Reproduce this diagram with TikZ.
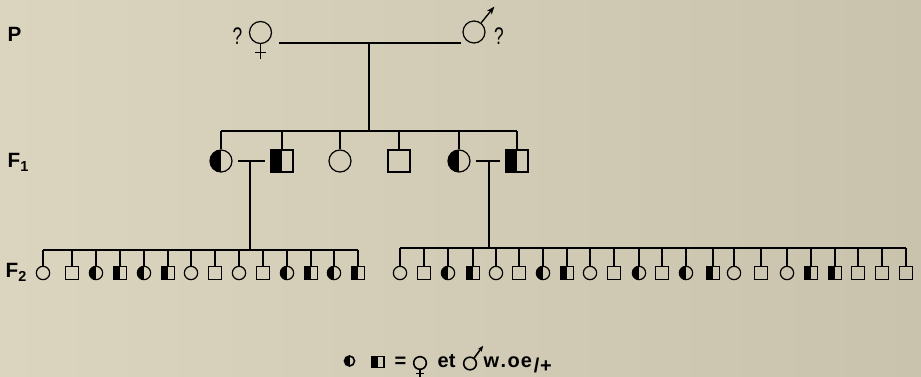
\documentclass[tikz,border=0pt]{standalone}
\usepackage{fontspec}
\setmainfont{Liberation Sans}
\usetikzlibrary{arrows.meta}
\definecolor{bgL}{RGB}{219,212,190}
\definecolor{bgR}{RGB}{201,195,173}
\begin{document}
\begin{tikzpicture}[x=0.75pt,y=-0.75pt,
  line width=1.1pt,
  ind/.style={draw, line width=0.9pt, inner sep=0pt},
  szA/.style={minimum size=16.5pt},
  szB/.style={minimum size=10pt},
  half/.style={path picture={\fill[black] (path picture bounding box.south west) rectangle (path picture bounding box.north);}},
  fo/.style={ind, circle},
  mo/.style={ind, rectangle},
  fh/.style={fo, half},
  mh/.style={mo, half},
  lab/.style={font=\fontsize{15.5}{18}\selectfont\bfseries, anchor=base west, inner sep=0pt},
  leg/.style={font=\fontsize{15}{18}\selectfont\bfseries, anchor=base west, inner sep=0pt},
  qm/.style={font=\fontsize{18}{20}\selectfont, anchor=base, inner sep=0pt},
  symA/.style={line width=1pt, -{Stealth[length=6pt,width=4.5pt]}},
  symB/.style={line width=1.2pt, -{Stealth[length=4.5pt,width=3.6pt]}}
]
\shade[left color=bgL, right color=bgR] (0,0) rectangle (921,377);
\useasboundingbox (0,0) rectangle (921,377);

% generation labels
\node[lab] (lP) at (7,42) {P};
\node[lab] (lF1) at (7,168) {F\textsubscript{1}};
\node[lab] (lF2) at (5,278) {F\textsubscript{2}};

% P generation
\node[fo, szA] (pf) at (260.5,32.5) {};
\draw[line width=1pt] (pf.south) -- ++(0,15);
\draw[line width=1pt] ([shift={(-5.5,8.5)}]pf.south) -- ++(11,0);
\node[fo, szA] (pm) at (474,32) {};
\draw[symA] (pm.52) -- ++(13.2,-16.3);
\node[qm] (q1) at (237.5,45) {\scalebox{0.72}[1]{?}};
\node[qm] (q2) at (499,45) {\scalebox{0.72}[1]{?}};

\coordinate (cl) at (279,43);
\coordinate (cr) at (461,43);
\coordinate (cm) at (369,43);
\coordinate (s1) at (369,131);
\draw (cl) -- (cr);
\draw (cm) -- (s1);

% F1 generation
\node[fh,szA] (a1) at (221,161) {};
\node[mh,szA] (a2) at (282,161) {};
\node[fo,szA] (a3) at (340,161) {};
\node[mo,szA] (a4) at (399,161) {};
\node[fh,szA] (a5) at (459,161) {};
\node[mh,szA] (a6) at (517,161) {};
\draw (a1.north |- s1) -- (a6.north |- s1);
\foreach \n in {a1,a2,a3,a4,a5,a6} {
  \draw (\n.north) -- (\n.north |- s1);
}
\coordinate (m1l) at ([xshift=4pt]a1.east);
\coordinate (m1r) at ([xshift=-4pt]a2.west);
\draw (m1l) -- node[coordinate, pos=0.45] (m1) {} (m1r);
\coordinate (m2l) at ([xshift=4pt]a5.east);
\coordinate (m2r) at ([xshift=-4pt]a6.west);
\draw (m2l) -- node[coordinate, pos=0.55] (m2) {} (m2r);

\coordinate (s2) at (250,250);
\coordinate (s3) at (489,248);
\draw (m1) -- (m1 |- s2);
\draw (m2) -- (m2 |- s3);

% F2 left sibship
\foreach \x/\t [count=\i] in {43/fo,72/mo,96/fh,120/mh,144/fh,168/mh,191/fo,215/mo,239/fo,263/mo,287/fh,311/mh,334/fh,358/mh} {
  \node[\t,szB] (l\i) at (\x,273) {};
  \draw (l\i.north) -- (l\i.north |- s2);
}
\draw (l1.north |- s2) -- (l14.north |- s2);

% F2 right sibship
\foreach \x/\t [count=\i] in {400/fo,424/mo,448/fh,473/mh,496/fo,519/mo,543/fh,567/mh,590/fo,614/mo,639/fh,662/mo,686/fh,713/mh,734/fo,761/mo,787/fo,811/mh,835/mh,858/mo,882/mo,906/mo} {
  \node[\t,szB] (r\i) at (\x,273) {};
  \draw (r\i.north) -- (r\i.north |- s3);
}
\draw (r1.north |- s3) -- (r22.north |- s3);

% legend
\node[fh, minimum size=7.5pt, line width=1.2pt] (k1) at (349.5,361) {};
\node[mh, minimum width=9pt, minimum height=8.5pt, line width=1.1pt] (k2) at (378,362) {};
\node[leg] (keq) at (394,368) {=};
\node[fo, minimum size=9.5pt, line width=1.2pt] (kf) at (420,363) {};
\draw[line width=1.2pt] (kf.south) -- ++(0,7);
\draw[line width=1.2pt] ([shift={(-4,3.5)}]kf.south) -- ++(8,0);
\node[leg] (ket) at (437,368) {et};
\node[fo, minimum size=9.5pt, line width=1.2pt] (km) at (470,363.5) {};
\draw[symB] (km.53) -- ++(8.9,-12.1);
\node[leg] (kt) at (483,368) {w\kern1pt.\kern1pt o\kern0.8pt e\kern1.5pt\raisebox{-3.5pt}{/\kern0.5pt+}};
\end{tikzpicture}
\end{document}
